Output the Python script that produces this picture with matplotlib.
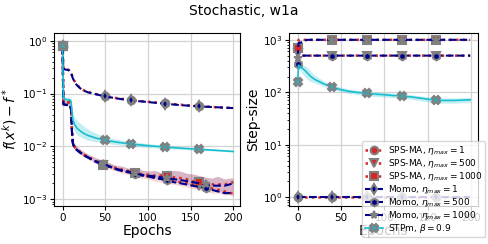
import matplotlib
matplotlib.use("Agg")
import matplotlib.pyplot as plt
import numpy as np

# ---------------- data ----------------
# Left panel: suboptimality f(x^k) - f*
ep_up = [0, 1, 3, 6, 8, 10, 12, 15, 20, 25, 30, 40, 50, 65, 80, 100, 120, 140, 160, 180, 200]
sps1_sub = [0.8, 0.30, 0.29, 0.285, 0.275, 0.25, 0.2, 0.16, 0.13, 0.115, 0.107, 0.097, 0.089, 0.081, 0.075, 0.07, 0.065, 0.061, 0.058, 0.055, 0.053]
momo1_sub = [0.8, 0.29, 0.285, 0.28, 0.27, 0.245, 0.195, 0.155, 0.128, 0.113, 0.105, 0.096, 0.088, 0.08, 0.074, 0.069, 0.064, 0.06, 0.057, 0.055, 0.053]

ep_stp = [0, 1, 3, 6, 9, 10, 11, 12, 14, 17, 20, 25, 30, 40, 50, 65, 80, 100, 120, 140, 160, 180, 200]
stp_sub = [0.8, 0.08, 0.078, 0.076, 0.075, 0.07, 0.045, 0.032, 0.026, 0.022, 0.02, 0.0175, 0.016, 0.0142, 0.013, 0.0119, 0.0111, 0.0103, 0.0097, 0.0092, 0.0088, 0.0084, 0.008]
stp_lo = [0.8, 0.075, 0.072, 0.07, 0.068, 0.06, 0.036, 0.024, 0.019, 0.0165, 0.0155, 0.014, 0.013, 0.0121, 0.0115, 0.0107, 0.0101, 0.0095, 0.0091, 0.0087, 0.0084, 0.0081, 0.0078]
stp_hi = [0.8, 0.088, 0.087, 0.086, 0.085, 0.082, 0.058, 0.043, 0.036, 0.031, 0.028, 0.024, 0.021, 0.0175, 0.015, 0.0135, 0.0123, 0.0113, 0.0104, 0.0098, 0.0093, 0.0088, 0.0083]

ep_lo = [0, 1, 3, 6, 9, 10, 11, 12, 13, 15, 20, 25, 30, 35, 40, 47, 55, 62, 70, 78, 85, 92, 100, 108, 115, 122, 130, 138, 145, 152, 160, 168, 175, 182, 190, 196, 200]
sps500_sub = [0.8, 0.07, 0.069, 0.068, 0.066, 0.05, 0.02, 0.012, 0.0105, 0.0092, 0.0078, 0.0068, 0.0062, 0.0056, 0.0051, 0.0045, 0.0041, 0.0038, 0.0035, 0.0032, 0.003, 0.0029, 0.0027, 0.0026, 0.0025, 0.0024, 0.0022, 0.0021, 0.002, 0.0019, 0.0018, 0.0016, 0.0016, 0.0015, 0.0014, 0.0013, 0.0013]
sps1000_sub = [0.8, 0.072, 0.071, 0.07, 0.068, 0.052, 0.021, 0.0125, 0.0108, 0.0094, 0.008, 0.007, 0.0063, 0.0057, 0.0052, 0.0044, 0.0042, 0.0039, 0.0036, 0.0034, 0.0031, 0.003, 0.0029, 0.0028, 0.0028, 0.0027, 0.0026, 0.0025, 0.0024, 0.0022, 0.0021, 0.002, 0.0019, 0.0019, 0.0019, 0.002, 0.0021]
momo500_sub = [0.8, 0.062, 0.061, 0.06, 0.06, 0.048, 0.019, 0.0115, 0.0102, 0.009, 0.0077, 0.0067, 0.0061, 0.0055, 0.005, 0.0046, 0.0041, 0.0037, 0.0034, 0.0032, 0.003, 0.0028, 0.0027, 0.0025, 0.0024, 0.0023, 0.0021, 0.002, 0.0019, 0.0018, 0.0017, 0.0016, 0.0015, 0.0014, 0.0013, 0.0013, 0.0012]
momo1000_sub = [0.8, 0.063, 0.062, 0.061, 0.061, 0.049, 0.0195, 0.0118, 0.0104, 0.0091, 0.0078, 0.0069, 0.0062, 0.0056, 0.0051, 0.0047, 0.0042, 0.0038, 0.0035, 0.0033, 0.0031, 0.0029, 0.0028, 0.0027, 0.0026, 0.0025, 0.0024, 0.0023, 0.0022, 0.0021, 0.002, 0.0019, 0.0018, 0.0018, 0.0018, 0.0019, 0.002]
band_lo = [0.8, 0.06, 0.059, 0.058, 0.058, 0.046, 0.018, 0.011, 0.0095, 0.0084, 0.0072, 0.0063, 0.0057, 0.0051, 0.0046, 0.0041, 0.0037, 0.0034, 0.0031, 0.0029, 0.0027, 0.0025, 0.0024, 0.0022, 0.0021, 0.002, 0.0019, 0.0018, 0.0017, 0.0016, 0.0015, 0.0014, 0.0013, 0.0013, 0.0012, 0.0012, 0.0011]
band_hi = [0.8, 0.075, 0.074, 0.073, 0.071, 0.055, 0.023, 0.014, 0.012, 0.0105, 0.009, 0.0079, 0.0071, 0.0065, 0.006, 0.0053, 0.0049, 0.0044, 0.0042, 0.0038, 0.0037, 0.0036, 0.0034, 0.0035, 0.0032, 0.0033, 0.0035, 0.0034, 0.0031, 0.003, 0.0028, 0.0026, 0.0025, 0.0027, 0.0024, 0.0025, 0.0025]

# Right panel: step-size
ep_step = [0, 1, 2, 3, 5, 8, 10, 12, 15, 20, 30, 40, 50, 60, 70, 80, 90, 100, 110, 120, 130, 140, 150, 160, 170, 180, 190, 199]
sps1_step = [1.0] * 28
sps500_step = [560, 505, 500, 500, 500, 500, 500, 500, 500, 500, 500, 500, 500, 500, 500, 500, 500, 500, 500, 500, 500, 500, 500, 500, 500, 500, 500, 500]
sps1000_step = [700, 1000, 1000, 1000, 1000, 1000, 1000, 1000, 1000, 1000, 1000, 1000, 1000, 1000, 1000, 1000, 1000, 1000, 1000, 1000, 1000, 1000, 1000, 1000, 1000, 1000, 1000, 1000]
momo1_step = [1.0] * 28
momo500_step = [350, 470, 490, 495, 500, 500, 500, 500, 500, 500, 500, 500, 500, 500, 500, 500, 500, 500, 500, 500, 500, 500, 500, 500, 500, 500, 500, 500]
momo1000_step = [450, 870, 880, 890, 900, 950, 990, 1000, 1000, 1000, 1000, 1000, 1000, 1000, 1000, 1000, 1000, 1000, 1000, 1000, 1000, 1000, 1000, 1000, 1000, 1000, 1000, 1000]
stp_step = [155, 330, 320, 310, 290, 265, 245, 225, 200, 175, 145, 125, 112, 104, 99, 95, 92, 90, 87, 85, 82, 78, 74, 71, 70, 70, 71, 72]
stp_step_lo = [50, 290, 280, 260, 230, 200, 185, 170, 160, 150, 130, 113, 102, 95, 90, 86, 83, 81, 79, 77, 74, 70, 66, 63, 62, 62, 63, 64]
stp_step_hi = [350, 360, 355, 350, 340, 320, 310, 290, 250, 210, 165, 140, 125, 115, 109, 104, 101, 99, 96, 93, 90, 86, 82, 79, 78, 78, 79, 80]

# marker positions (epochs)
mk_sps1_l = [0, 47, 83, 127, 165]
mk_momo1_l = [0, 49, 84, 120, 167]
mk_low_l = [0, 47, 85, 122, 163]
mk_stp_l = [0, 47, 87, 126, 160]
mk_right = [0, 40, 80, 120, 160]

labels = ["SPS-MA, $\\eta_{max}=1$", "SPS-MA, $\\eta_{max}=500$", "SPS-MA, $\\eta_{max}=1000$",
          "Momo, $\\eta_{max}=1$", "Momo, $\\eta_{max}=500$", "Momo, $\\eta_{max}=1000$",
          "STPm, $\\beta=0.9$"]

# ---------------- styles ----------------
red = "#d62728"
blue = "#00008b"
cyan = "#17becf"
mec = "#808080"
ms = 5.5
mew = 1.5


def idx(xs, marks):
    xs = list(xs)
    return [min(range(len(xs)), key=lambda i: abs(xs[i] - m)) for m in marks]


fig = plt.figure(figsize=(4.88, 2.44), dpi=100)
axL = fig.add_axes([54 / 488, 38 / 244, 186 / 488, 173 / 244])
axR = fig.add_axes([289 / 488, 38 / 244, 189 / 488, 173 / 244])
fig.suptitle("Stochastic, w1a", fontsize=10, y=0.985)

for ax in (axL, axR):
    ax.set_yscale("log")
    ax.grid(True, which="major", color="#d3d3d3", lw=0.9)
    ax.set_axisbelow(True)
    ax.tick_params(labelsize=7.5, length=3, pad=2)
    ax.tick_params(which="minor", length=1.5)
    ax.set_xlim(-10, 208)
    ax.set_xticks([0, 50, 100, 150, 200])

# left panel
axL.fill_between(ep_stp, stp_lo, stp_hi, color=cyan, alpha=0.25, lw=0)
axL.fill_between(ep_lo, band_lo, band_hi, color=red, alpha=0.18, lw=0)
axL.fill_between(ep_lo, momo500_sub, band_hi, color="#5b2a86", alpha=0.2, lw=0)

def line(ax, x, y, ls, color, marker, marks, lw=1.5, size=ms, zorder=3):
    return ax.plot(x, y, ls=ls, color=color, lw=lw, marker=marker, markevery=idx(x, marks),
                   markersize=size, markeredgecolor=mec, markeredgewidth=mew, zorder=zorder)[0]

line(axL, ep_up, sps1_sub, ":", red, "o", mk_sps1_l, lw=1.8)
line(axL, ep_lo, sps500_sub, ":", red, "v", mk_low_l, lw=1.8)
line(axL, ep_lo, sps1000_sub, ":", red, "s", [0, 46, 86, 121, 160], lw=1.8)
line(axL, ep_up, momo1_sub, "--", blue, "d", mk_momo1_l)
line(axL, ep_lo, momo500_sub, "--", blue, "h", [0, 48, 88, 125, 168])
line(axL, ep_lo, momo1000_sub, "--", blue, "*", [0, 47, 87, 124, 166])
line(axL, ep_stp, stp_sub, "-", cyan, "X", mk_stp_l, lw=1.2)

axL.set_ylim(10 ** -3.13, 10 ** 0.146)
axL.set_xlabel("Epochs", fontsize=10, labelpad=1)
axL.set_ylabel("$f(x^k)-f^*$", fontsize=10, labelpad=2)

# right panel
axR.fill_between(ep_step, stp_step_lo, stp_step_hi, color=cyan, alpha=0.25, lw=0)
h = []
h.append(line(axR, ep_step, sps1_step, ":", red, "o", mk_right, lw=1.8))
h.append(line(axR, ep_step, sps500_step, ":", red, "v", mk_right, lw=1.8))
h.append(line(axR, ep_step, sps1000_step, ":", red, "s", mk_right, lw=1.8))
h.append(line(axR, ep_step, momo1_step, "--", blue, "d", mk_right))
h.append(line(axR, ep_step, momo500_step, "--", blue, "h", mk_right))
h.append(line(axR, ep_step, momo1000_step, "--", blue, "*", mk_right))
h.append(line(axR, ep_step, stp_step, "-", cyan, "X", mk_right, lw=1.2))

axR.set_ylim(10 ** -0.166, 10 ** 3.13)
axR.set_xlabel("Epochs", fontsize=10, labelpad=1)
axR.set_ylabel("Step-size", fontsize=10, labelpad=2)

leg = fig.legend(h, labels, loc="upper right", bbox_to_anchor=(485 / 488, 1 - 141 / 244),
                 fontsize=6.5, labelspacing=0.0, handlelength=2.0, handletextpad=0.5,
                 borderpad=0.3, borderaxespad=0.0, framealpha=0.8, edgecolor="#cccccc",
                 fancybox=True)

fig.savefig("out.png", dpi=100)
